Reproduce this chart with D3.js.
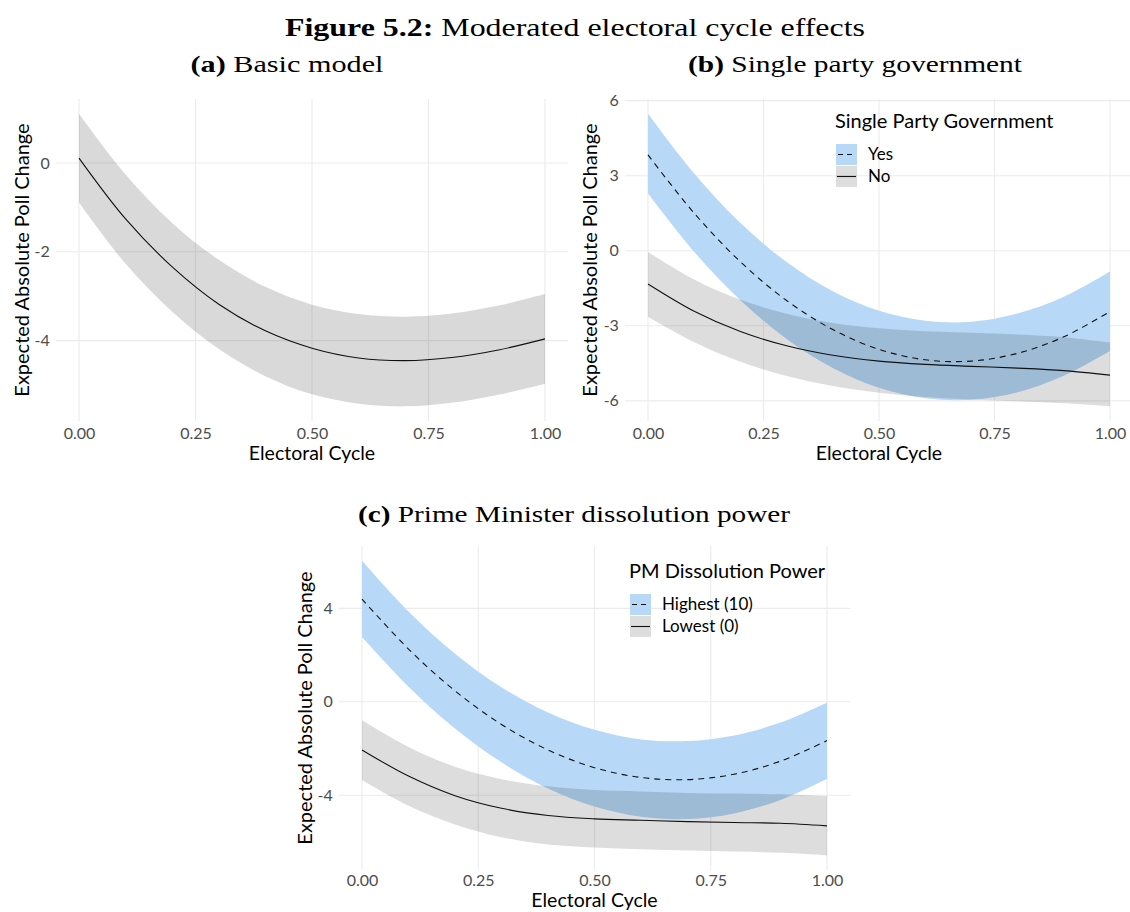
<!DOCTYPE html>
<html lang="en">
<head>
    <meta charset="UTF-8">
    <title>Figure 5.2: Moderated electoral cycle effects</title>
    <script src="https://d3js.org/d3.v7.min.js"></script>
    <style>
        body { margin: 0; background: #fff; }
        .serif { font-family: "Liberation Serif", "Times New Roman", serif; fill: #000; }
        .axis text { font-family: Lato, "Noto Sans", sans-serif; font-size: 16px; fill: #4d4d4d; }
        .axis-title, .legend text { font-family: Lato, "Noto Sans", sans-serif; fill: #000; }
        .grid line { stroke: #ebebeb; stroke-width: 1.1px; }
    </style>
</head>
<body>
<svg width="1130" height="912"></svg>
<script>
    const cycle = [0, 0.1, 0.2, 0.3, 0.4, 0.5, 0.6, 0.7, 0.8, 0.9, 1.0];

    // (a) basic model
    const basicFit = [0.11, -1.26, -2.34, -3.18, -3.78, -4.17, -4.39, -4.45, -4.38, -4.21, -3.96];
    const basicHi  = [1.11, -0.26, -1.35, -2.18, -2.79, -3.19, -3.40, -3.46, -3.39, -3.21, -2.95];
    const basicLo  = [-0.89, -2.27, -3.35, -4.19, -4.80, -5.21, -5.42, -5.48, -5.40, -5.22, -4.97];

    // (b) single party government
    const spgYesFit = [3.83, 1.50, -0.44, -1.99, -3.15, -3.94, -4.36, -4.41, -4.10, -3.44, -2.43];
    const spgYesHi  = [5.48, 3.09, 1.11, -0.45, -1.62, -2.40, -2.80, -2.84, -2.51, -1.84, -0.83];
    const spgYesLo  = [2.29, -0.04, -1.98, -3.53, -4.69, -5.48, -5.90, -5.96, -5.66, -5.00, -4.01];
    const spgNoFit  = [-1.33, -2.42, -3.23, -3.80, -4.18, -4.41, -4.54, -4.62, -4.69, -4.79, -4.97];
    const spgNoHi   = [-0.05, -1.15, -1.96, -2.52, -2.89, -3.10, -3.22, -3.28, -3.35, -3.46, -3.67];
    const spgNoLo   = [-2.64, -3.66, -4.44, -5.01, -5.41, -5.68, -5.85, -5.95, -6.02, -6.10, -6.22];

    // (c) PM dissolution power
    const pmHighFit = [4.40, 2.26, 0.47, -0.97, -2.06, -2.82, -3.24, -3.33, -3.10, -2.54, -1.66];
    const pmHighHi  = [6.04, 3.87, 2.06, 0.62, -0.46, -1.20, -1.61, -1.68, -1.44, -0.89, -0.04];
    const pmHighLo  = [2.77, 0.65, -1.14, -2.59, -3.71, -4.48, -4.92, -5.02, -4.78, -4.20, -3.29];
    const pmLowFit  = [-2.06, -3.18, -4.02, -4.56, -4.87, -5.01, -5.07, -5.13, -5.17, -5.20, -5.31];
    const pmLowHi   = [-0.79, -1.93, -2.78, -3.31, -3.62, -3.78, -3.84, -3.90, -3.93, -3.96, -4.04];
    const pmLowLo   = [-3.35, -4.45, -5.25, -5.80, -6.11, -6.24, -6.31, -6.37, -6.41, -6.46, -6.57];

    const xTicks = [0, 0.25, 0.5, 0.75, 1];
    const basicYTicks = [0, -2, -4];
    const spgYTicks = [6, 3, 0, -3, -6];
    const pmYTicks = [4, 0, -4];

    const blueFill = "#b7d8f6";
    const svg = d3.select("svg");

    function rows(fit, lo, hi) {
        return cycle.map((c, i) => ({x: c, fit: fit[i], lo: lo[i], hi: hi[i]}));
    }

    function drawPanel(cfg) {
        const g = svg.append("g");
        const all = cfg.series.flatMap(s => s.data.flatMap(d => [d.lo, d.hi]));
        const [mn, mx] = d3.extent(all);
        const pad = (mx - mn) * 0.05;

        // x0/x1 = pixel position of cycle 0 and 1, panel gets ggplot's 5% expansion
        const unit = cfg.x1 - cfg.x0;
        const left = cfg.x0 - 0.05 * unit, right = cfg.x1 + 0.05 * unit;
        const x = d3.scaleLinear().domain([0, 1]).range([cfg.x0, cfg.x1]);
        const y = d3.scaleLinear().domain([mn - pad, mx + pad]).range([cfg.bottom, cfg.top]);

        const grid = g.append("g").attr("class", "grid");
        grid.selectAll(".h").data(cfg.yTicks).join("line")
            .attr("x1", left).attr("x2", right)
            .attr("y1", d => y(d)).attr("y2", d => y(d));
        grid.selectAll(".v").data(xTicks).join("line")
            .attr("x1", d => x(d)).attr("x2", d => x(d))
            .attr("y1", cfg.top).attr("y2", cfg.bottom);

        const area = d3.area().curve(d3.curveCatmullRom)
            .x(d => x(d.x)).y0(d => y(d.lo)).y1(d => y(d.hi));
        const line = d3.line().curve(d3.curveCatmullRom)
            .x(d => x(d.x)).y(d => y(d.fit));

        cfg.series.forEach(s => {
            g.append("path").attr("d", area(s.data))
                .attr("fill", s.fill).attr("fill-opacity", s.opacity);
        });
        cfg.series.forEach(s => {
            g.append("path").attr("d", line(s.data))
                .attr("fill", "none").attr("stroke", "#111")
                .attr("stroke-width", 1.1)
                .attr("stroke-dasharray", s.dash || null);
        });

        g.append("g").attr("class", "axis")
            .attr("transform", `translate(0,${cfg.bottom})`)
            .call(d3.axisBottom(x).tickValues(xTicks).tickFormat(d3.format(".2f"))
                .tickSize(0).tickPadding(cfg.tickPad || 7));
        g.append("g").attr("class", "axis")
            .attr("transform", `translate(${left},0)`)
            .call(d3.axisLeft(y).tickValues(cfg.yTicks).tickFormat(d => String(d)).tickSize(0).tickPadding(6));
        g.selectAll(".axis .domain").remove();

        g.append("text").attr("class", "axis-title")
            .attr("x", (left + right) / 2).attr("y", cfg.bottom + (cfg.xTitleGap || 39))
            .attr("text-anchor", "middle").attr("font-size", 19.5)
            .text("Electoral Cycle");
        g.append("text").attr("class", "axis-title")
            .attr("transform", `translate(${cfg.yTitleX},${(cfg.top + cfg.bottom) / 2}) rotate(-90)`)
            .attr("text-anchor", "middle").attr("dy", "0.35em").attr("font-size", 20)
            .text("Expected Absolute Poll Change");

        if (cfg.legend) {
            const lg = g.append("g").attr("class", "legend")
                .attr("transform", `translate(${cfg.legend.x},${cfg.legend.y})`);
            lg.append("text").attr("x", 0).attr("y", 7).attr("font-size", 20)
                .text(cfg.legend.title);
            cfg.series.forEach((s, i) => {
                const ky = 23 + i * 22;
                lg.append("rect").attr("x", 1).attr("y", ky).attr("width", 21).attr("height", 21)
                    .attr("fill", s.fill).attr("fill-opacity", s.opacity);
                lg.append("line").attr("x1", 2).attr("x2", 21)
                    .attr("y1", ky + 10.5).attr("y2", ky + 10.5)
                    .attr("stroke", "#111").attr("stroke-width", 1.1)
                    .attr("stroke-dasharray", s.dash ? "5,4" : null)
                    .attr("stroke-dashoffset", s.dash ? -1 : null);
                lg.append("text").attr("x", 33).attr("y", ky + 10.5).attr("dy", "0.35em")
                    .attr("font-size", 17).text(s.label);
            });
        }
    }

    // titles, stretched to the width of the LaTeX caption
    const title = svg.append("text").attr("class", "serif")
        .attr("x", 575).attr("y", 36).attr("text-anchor", "middle").attr("font-size", 25)
        .attr("textLength", 580).attr("lengthAdjust", "spacingAndGlyphs");
    title.append("tspan").attr("font-weight", "bold").text("Figure 5.2:");
    title.append("tspan").text(" Moderated electoral cycle effects");

    [["(a)", " Basic model", 287, 72, 193], ["(b)", " Single party government", 855, 72, 334],
     ["(c)", " Prime Minister dissolution power", 574, 522, 432]].forEach(([a, b, cx, cy, w]) => {
        const t = svg.append("text").attr("class", "serif")
            .attr("x", cx).attr("y", cy).attr("text-anchor", "middle").attr("font-size", 24)
            .attr("textLength", w).attr("lengthAdjust", "spacingAndGlyphs");
        t.append("tspan").attr("font-weight", "bold").text(a);
        t.append("tspan").text(b);
    });

    drawPanel({
        x0: 79, x1: 545, top: 99, bottom: 421, yTitleX: 22, yTicks: basicYTicks,
        series: [{data: rows(basicFit, basicLo, basicHi), fill: "#000", opacity: 0.15}]
    });

    drawPanel({
        x0: 648, x1: 1110, top: 99, bottom: 421, yTitleX: 590, yTicks: spgYTicks,
        legend: {x: 835, y: 121, title: "Single Party Government"},
        series: [
            {label: "Yes", data: rows(spgYesFit, spgYesLo, spgYesHi), fill: blueFill, opacity: 1, dash: "6,5"},
            {label: "No", data: rows(spgNoFit, spgNoLo, spgNoHi), fill: "#000", opacity: 0.135}
        ]
    });

    drawPanel({
        x0: 362, x1: 827, top: 546, bottom: 870, yTitleX: 305, yTicks: pmYTicks,
        tickPad: 5, xTitleGap: 37,
        legend: {x: 629, y: 571, title: "PM Dissolution Power"},
        series: [
            {label: "Highest (10)", data: rows(pmHighFit, pmHighLo, pmHighHi), fill: blueFill, opacity: 1, dash: "6,5"},
            {label: "Lowest (0)", data: rows(pmLowFit, pmLowLo, pmLowHi), fill: "#000", opacity: 0.135}
        ]
    });
</script>
</body>
</html>
